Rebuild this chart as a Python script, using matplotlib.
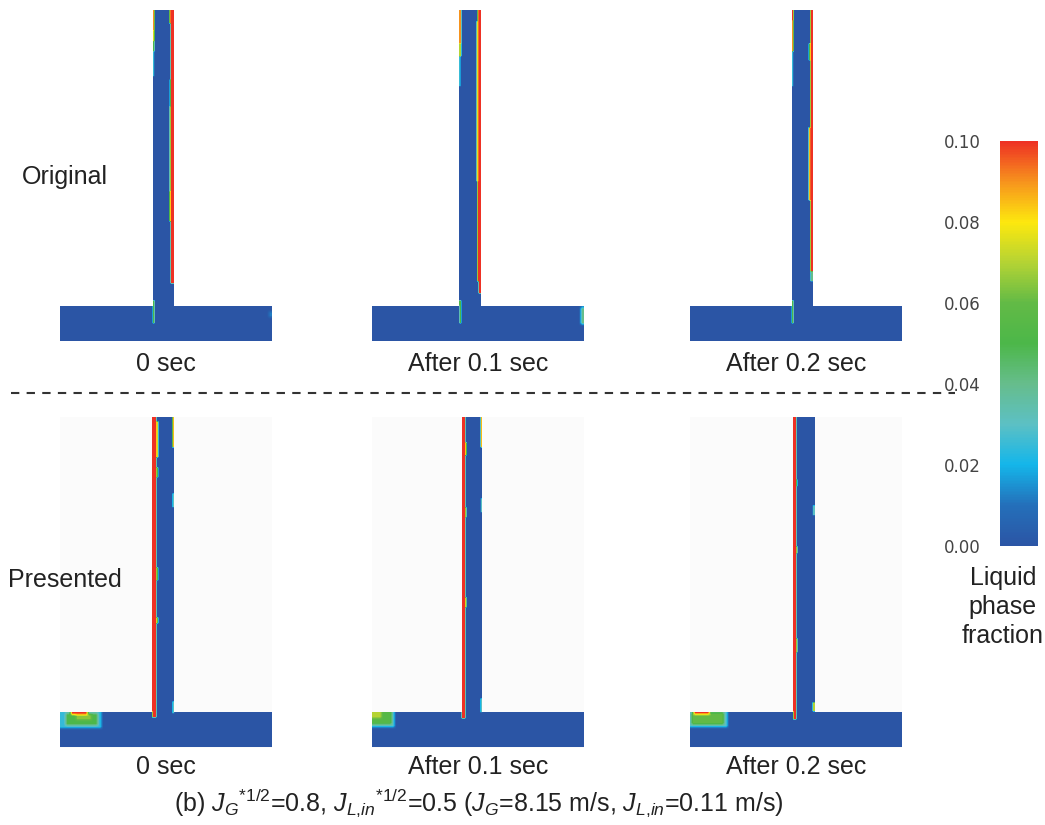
import numpy as np
import matplotlib.pyplot as plt
from matplotlib.colors import LinearSegmentedColormap, Normalize
from matplotlib.cm import ScalarMappable
from matplotlib.lines import Line2D
from matplotlib.patches import Rectangle

plt.rcParams['font.family'] = ['Liberation Sans', 'DejaVu Sans']
plt.rcParams['mathtext.fontset'] = 'custom'
plt.rcParams['mathtext.rm'] = 'Liberation Sans'
plt.rcParams['mathtext.it'] = 'Liberation Sans:italic'

W, H = 1045, 825

# colour scale of the liquid phase fraction
cb_levels = [0.0, 0.01, 0.02, 0.03, 0.04, 0.05, 0.06, 0.07, 0.08, 0.09, 0.10]
cb_colors = ['#2b55a5', '#2470ba', '#14b6ea', '#5cc0c4', '#66bd8c', '#4cb749',
             '#62ba46', '#b4d334', '#fde80e', '#f7941d', '#ee3124']
cb_ticks = [0.00, 0.02, 0.04, 0.06, 0.08, 0.10]

row_names = ['Original', 'Presented']
time_labels = ['0 sec', 'After 0.1 sec', 'After 0.2 sec']

# T-junction geometry, panel units (about one pixel)
pipe_len = 212
pipe_h = 331
main_d = 35.5
branch_x = [[93.0, 87.6, 102.0], [92.7, 90.0, 103.3]]
branch_w = [[21.3, 21.7, 21.7], [21.6, 20.7, 21.7]]

# liquid films on the branch walls: (wall, z_top, z_bottom, depth, thickness, fraction)
films_orig_0 = [('R', 331, 58, 0, 3.4, 0.10), ('R', 331, 318, 3.4, 1.4, 0.09),
                ('R', 262, 235, 3.4, 1.4, 0.025), ('R', 235, 150, 3.4, 1.4, 0.05),
                ('R', 150, 120, 3.4, 1.4, 0.075),
                ('L', 331, 311, 0, 2.0, 0.09), ('L', 311, 300, 0, 2.0, 0.075),
                ('L', 300, 290, 0, 2.0, 0.05), ('L', 290, 265, 0, 1.6, 0.025),
                ('L', 41, 18, 0, 2.0, 0.05)]
films_orig_1 = [('R', 331, 48, 0, 2.2, 0.10), ('R', 331, 160, 2.2, 1.6, 0.09),
                ('R', 160, 60, 2.2, 1.6, 0.10), ('R', 320, 160, 3.8, 1.2, 0.05),
                ('L', 331, 298, 0, 2.0, 0.09), ('L', 298, 285, 0, 2.0, 0.07),
                ('L', 285, 255, 0, 1.6, 0.025), ('L', 41, 18, 0, 2.0, 0.05)]
films_orig_2 = [('R', 331, 64, 0, 3.4, 0.10), ('R', 214, 141, 3.4, 1.4, 0.085),
                ('R', 298, 281, 3.4, 1.4, 0.05), ('R', 70, 60, 0, 3.0, 0.04),
                ('L', 331, 321, 0, 2.0, 0.10), ('L', 321, 290, 0, 2.0, 0.09),
                ('L', 290, 255, 0, 1.6, 0.025), ('L', 41, 18, 0, 2.0, 0.05)]
films_pres_0 = [('L', 331, 30, 0, 4.0, 0.10), ('L', 326, 290, 4.0, 1.6, 0.075),
                ('L', 280, 270, 4.0, 1.6, 0.05), ('L', 180, 167, 4.0, 1.6, 0.05),
                ('L', 130, 124, 4.0, 1.6, 0.06),
                ('R', 331, 300, 0, 1.6, 0.085), ('R', 254, 240, 0, 1.8, 0.03),
                ('R', 46, 34, 0, 2.0, 0.03)]
films_pres_1 = [('L', 331, 29, 0, 3.6, 0.10), ('L', 305, 292, 3.6, 1.6, 0.075),
                ('L', 240, 230, 3.6, 1.4, 0.05), ('L', 150, 140, 3.6, 1.4, 0.06),
                ('R', 331, 300, 0, 1.6, 0.085), ('R', 249, 235, 0, 1.8, 0.03),
                ('R', 49, 35, 0, 2.0, 0.03)]
films_pres_2 = [('L', 331, 28, 0, 3.4, 0.10), ('L', 268, 261, 3.4, 1.4, 0.03),
                ('L', 201, 194, 3.4, 1.4, 0.05), ('L', 109, 95, 3.4, 1.4, 0.05),
                ('R', 242, 232, 0, 1.8, 0.03), ('R', 45, 36, 0, 1.8, 0.07)]
films = [[films_orig_0, films_orig_1, films_orig_2],
         [films_pres_0, films_pres_1, films_pres_2]]

# liquid pockets in the main pipe: (x_left, x_right, z_bottom, z_top, fraction)
pockets_orig_0 = [(209, 212, 24, 30, 0.012)]
pockets_orig_1 = [(209, 212, 17, 34, 0.04)]
pockets_orig_2 = []
pockets_pres_0 = [(0, 42, 19, 35.5, 0.025), (6, 38, 22, 34, 0.05),
                  (16, 32, 27, 33, 0.065), (11, 28, 32.5, 35.5, 0.10)]
pockets_pres_1 = [(0, 23, 20, 35.5, 0.03), (0, 20, 23, 35.5, 0.055),
                  (0, 10, 29, 35.5, 0.07)]
pockets_pres_2 = [(0, 38, 20, 35.5, 0.03), (2, 34, 23, 34.5, 0.06),
                  (4, 20, 33, 35.5, 0.10)]
pockets = [[pockets_orig_0, pockets_orig_1, pockets_orig_2],
           [pockets_pres_0, pockets_pres_1, pockets_pres_2]]

# panel placement in pixels (left edge, top edge)
panel_left = [59.5, 371.7, 689.5]
panel_top = [10, 416.5]

cmap = LinearSegmentedColormap.from_list(
    'lpf', list(zip(np.array(cb_levels) / 0.1, cb_colors)))
cmap.set_bad((1, 1, 1, 0))
norm = Normalize(0, 0.1)

res = 0.5
xs = np.arange(0, pipe_len, res) + res / 2
zs = np.arange(0, pipe_h, res) + res / 2
X, Z = np.meshgrid(xs, zs)


def box(a, k=1):
    p = np.pad(a, k, mode='edge')
    out = np.zeros_like(a)
    for i in range(2 * k + 1):
        for j in range(2 * k + 1):
            out += p[i:i + a.shape[0], j:j + a.shape[1]]
    return out / (2 * k + 1) ** 2


def build_field(x0, w, film_list, pocket_list):
    inside = (Z < main_d) | ((X >= x0) & (X <= x0 + w))
    m = inside.astype(float)
    f = np.zeros_like(X)
    for wall, zt, zb, d, t, v in film_list:
        if wall == 'L':
            xa, xb = x0 + d, x0 + d + t
        else:
            xa, xb = x0 + w - d - t, x0 + w - d
        f[(X >= xa) & (X <= xb) & (Z <= zt) & (Z >= zb)] = v
    f = box(f * m) / np.maximum(box(m), 1e-9)
    # pockets are blurrier than the films
    g = np.zeros_like(X)
    gm = np.zeros_like(X)
    for xa, xb, zb, zt, v in pocket_list:
        sel = (X >= xa) & (X <= xb) & (Z <= zt) & (Z >= zb)
        g[sel] = v
        gm[sel] = 1
    g = box(g * m, 3) / np.maximum(box(m, 3), 1e-9)
    gm = box(gm * m, 3) / np.maximum(box(m, 3), 1e-9)
    f = np.where(gm > 0, g + (1 - gm) * f, f)
    return np.ma.masked_where(~inside, f)


def fx(x):
    return x / W


def fy(y):
    return 1 - y / H


fig = plt.figure(figsize=(W / 100, H / 100), dpi=100)

for r in range(2):
    for c in range(3):
        ax = fig.add_axes([fx(panel_left[c]), fy(panel_top[r] + pipe_h),
                           pipe_len / W, pipe_h / H])
        ax.set_xlim(0, pipe_len)
        ax.set_ylim(0, pipe_h)
        ax.axis('off')
        if r == 1:
            ax.add_patch(Rectangle((0, 0), pipe_len, pipe_h, color='#fbfbfb', zorder=0))
        field = build_field(branch_x[r][c], branch_w[r][c], films[r][c], pockets[r][c])
        ax.imshow(field, origin='lower', extent=[0, pipe_len, 0, pipe_h],
                  cmap=cmap, norm=norm, aspect='auto', interpolation='nearest', zorder=1)

# row names and time labels
fig.text(fx(22), fy(177), row_names[0], fontsize=18, ha='left', va='center', color='#222')
fig.text(fx(8), fy(580), row_names[1], fontsize=18, ha='left', va='center', color='#222')
label_x = [166, 478, 796]
for c in range(3):
    fig.text(fx(label_x[c]), fy(364), time_labels[c], fontsize=18, ha='center', va='center', color='#222')
    fig.text(fx(label_x[c]), fy(767), time_labels[c], fontsize=18, ha='center', va='center', color='#222')

# separator
fig.add_artist(Line2D([fx(11), fx(955)], [fy(393.3), fy(393.3)], lw=1.5,
                      color='#333', ls=(0, (4, 3.5))))

# colour bar
cax = fig.add_axes([fx(1000), fy(546), 38 / W, 405 / H])
cb = fig.colorbar(ScalarMappable(norm=norm, cmap=cmap), cax=cax, ticks=cb_ticks)
cb.outline.set_visible(False)
cax.yaxis.set_ticks_position('left')
cax.tick_params(length=0, pad=14, labelsize=12, labelcolor='#444')
cax.set_yticklabels(['%.2f' % t for t in cb_ticks], family='DejaVu Sans')
fig.text(fx(1003), fy(607), 'Liquid\nphase\nfraction', fontsize=18, ha='center',
         va='center', linespacing=1.25, color='#222')

# caption
fig.text(fx(479), fy(803),
         r'(b) $J_G{}^{\mathit{*1/2}}$=0.8, $J_{L{,}in}{}^{\mathit{*1/2}}$=0.5 '
         r'($J_G$=8.15 m/s, $J_{L{,}in}$=0.11 m/s)',
         fontsize=18, ha='center', va='center', color='#222')

fig.savefig('out.png', dpi=100)
